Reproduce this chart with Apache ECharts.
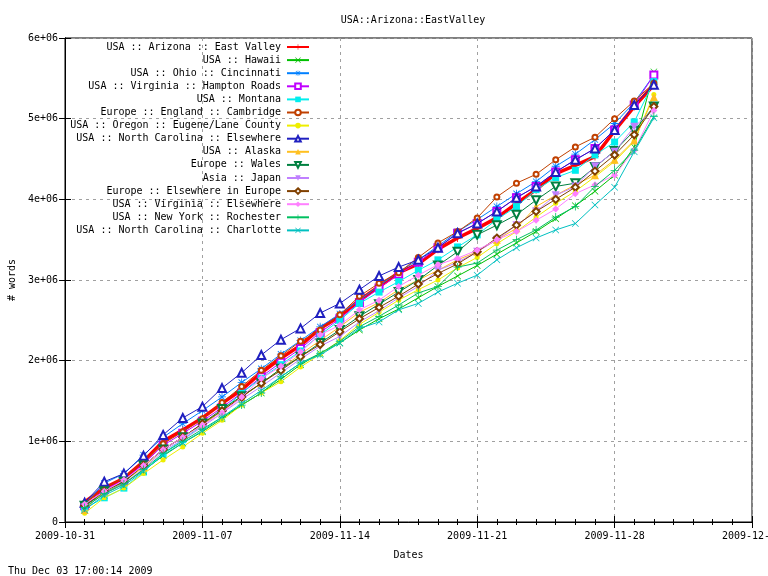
<!DOCTYPE html>
<html>
<head>
<meta charset="utf-8">
<script src="https://cdn.jsdelivr.net/npm/echarts@6/dist/echarts.min.js"></script>
<style>html,body{margin:0;padding:0;background:#fff}#c{width:768px;height:576px}</style>
</head>
<body>
<div id="c"></div>
<script>
// Days since 2009-10-31 for each sample (2009-11-01 .. 2009-11-30)
const dayOffsets = [1,2,3,4,5,6,7,8,9,10,11,12,13,14,15,16,17,18,19,20,21,22,23,24,25,26,27,28,29,30];
const xTickLabels = ['2009-10-31','2009-11-07','2009-11-14','2009-11-21','2009-11-28','2009-12-05'];
const yTickLabels = ['0','1e+06','2e+06','3e+06','4e+06','5e+06','6e+06'];
const seriesNames = [
  'USA :: Arizona :: East Valley','USA :: Hawaii','USA :: Ohio :: Cincinnati','USA :: Virginia :: Hampton Roads',
  'USA :: Montana','Europe :: England :: Cambridge','USA :: Oregon :: Eugene/Lane County','USA :: North Carolina :: Elsewhere',
  'USA :: Alaska','Europe :: Wales','Asia :: Japan','Europe :: Elsewhere in Europe','USA :: Virginia :: Elsewhere',
  'USA :: New York :: Rochester','USA :: North Carolina :: Charlotte'
];
// values in millions of words
const eastValley   = [0.25,0.42,0.54,0.75,1.00,1.14,1.29,1.47,1.64,1.85,2.03,2.19,2.40,2.55,2.75,2.92,3.09,3.20,3.38,3.52,3.64,3.77,3.95,4.12,4.32,4.42,4.53,4.85,5.15,5.42];
const hawaii       = [0.20,0.36,0.48,0.64,0.82,0.98,1.12,1.28,1.45,1.60,1.77,1.95,2.09,2.22,2.38,2.52,2.64,2.78,2.92,3.05,3.18,3.32,3.46,3.60,3.76,3.92,4.10,4.30,4.65,5.58];
const cincinnati   = [0.22,0.48,0.60,0.83,1.05,1.22,1.38,1.55,1.73,1.90,2.08,2.25,2.42,2.58,2.75,2.93,3.10,3.25,3.42,3.60,3.75,3.91,4.07,4.22,4.41,4.56,4.74,4.94,5.20,5.54];
const hamptonRoads = [0.20,0.40,0.52,0.72,0.95,1.10,1.25,1.42,1.60,1.80,1.98,2.15,2.35,2.52,2.72,2.90,3.07,3.22,3.40,3.58,3.70,3.85,4.02,4.16,4.34,4.49,4.63,4.86,5.17,5.54];
const montana      = [0.17,0.30,0.42,0.62,0.85,1.02,1.20,1.38,1.60,1.78,1.95,2.12,2.32,2.50,2.71,2.85,2.98,3.12,3.25,3.41,3.56,3.75,3.91,4.12,4.27,4.36,4.55,4.71,4.96,5.46];
const cambridge    = [0.23,0.42,0.55,0.75,0.97,1.12,1.28,1.48,1.68,1.88,2.06,2.24,2.38,2.57,2.80,2.96,3.09,3.28,3.46,3.60,3.77,4.03,4.20,4.31,4.49,4.65,4.77,5.00,5.22,5.44];
const oregon       = [0.11,0.30,0.42,0.60,0.77,0.93,1.10,1.26,1.45,1.60,1.74,1.92,2.08,2.25,2.45,2.60,2.75,2.88,3.00,3.15,3.28,3.45,3.60,3.78,3.95,4.10,4.28,4.47,4.72,5.30];
const ncElsewhere  = [0.24,0.50,0.60,0.82,1.08,1.29,1.43,1.66,1.85,2.07,2.26,2.40,2.59,2.71,2.88,3.05,3.16,3.25,3.40,3.58,3.70,3.85,4.02,4.16,4.34,4.49,4.63,4.86,5.17,5.42];
const alaska       = [0.15,0.38,0.50,0.68,0.90,1.05,1.20,1.38,1.55,1.72,1.90,2.08,2.25,2.42,2.60,2.72,2.88,3.00,3.12,3.25,3.35,3.50,3.64,3.91,4.05,4.18,4.30,4.49,4.73,5.27];
const wales        = [0.20,0.38,0.50,0.70,0.90,1.05,1.22,1.40,1.56,1.72,1.90,2.05,2.22,2.38,2.55,2.70,2.85,3.00,3.18,3.35,3.56,3.68,3.81,3.99,4.16,4.20,4.40,4.60,4.85,5.15];
const japan        = [0.18,0.35,0.48,0.66,0.88,1.02,1.18,1.35,1.52,1.68,1.85,2.02,2.18,2.30,2.48,2.62,2.78,2.92,3.12,3.22,3.35,3.50,3.68,3.85,4.05,4.16,4.41,4.59,4.90,5.11];
const europeOther  = [0.20,0.38,0.50,0.70,0.90,1.05,1.22,1.38,1.55,1.72,1.88,2.05,2.20,2.36,2.52,2.66,2.80,2.95,3.08,3.20,3.35,3.52,3.68,3.85,4.00,4.15,4.35,4.55,4.80,5.15];
const vaElsewhere  = [0.22,0.38,0.52,0.70,0.90,1.05,1.20,1.35,1.55,1.78,1.93,2.11,2.32,2.44,2.63,2.75,2.92,3.06,3.19,3.27,3.37,3.50,3.60,3.74,3.88,4.07,4.18,4.30,4.61,5.10];
const rochester    = [0.18,0.35,0.47,0.65,0.85,1.00,1.15,1.30,1.45,1.60,1.80,1.97,2.09,2.24,2.42,2.55,2.69,2.84,2.92,3.16,3.21,3.37,3.50,3.62,3.78,3.91,4.16,4.36,4.61,5.03];
const charlotte    = [0.15,0.33,0.45,0.63,0.83,0.98,1.13,1.30,1.47,1.63,1.80,1.97,2.07,2.22,2.40,2.48,2.63,2.71,2.85,2.96,3.06,3.25,3.40,3.52,3.62,3.70,3.93,4.15,4.59,5.01];

const allValues = [eastValley,hawaii,cincinnati,hamptonRoads,montana,cambridge,oregon,ncElsewhere,alaska,wales,japan,europeOther,vaElsewhere,rochester,charlotte];
const colors = ['#ff0000','#00c000','#0080ff','#c000ff','#00eeee','#c04000','#eeee00','#2020c0','#ffc020','#008040','#c080ff','#804000','#ff80ff','#00c060','#00c0c0'];

const PLUS = 'path://M0,4.5H10V5.5H0Z M4.5,0H5.5V10H4.5Z';
const CROSS = 'path://M0,0.7L0.7,0L10,9.3L9.3,10Z M9.3,0L10,0.7L0.7,10L0,9.3Z';
const STAR = 'path://M0,4.5H10V5.5H0Z M4.5,0H5.5V10H4.5Z M0.8,1.5L1.5,0.8L9.2,8.5L8.5,9.2Z M8.5,0.8L9.2,1.5L1.5,9.2L0.8,8.5Z';
const symbols = [
  [PLUS,0,8],[CROSS,0,7],[STAR,0,8],['emptyRect',0,7],['rect',0,7],['emptyCircle',0,5],['circle',0,5],
  ['emptyTriangle',0,8],['triangle',0,8],['emptyTriangle',180,8],['triangle',180,8],['emptyDiamond',0,7],
  ['diamond',0,7],[PLUS,0,8],[CROSS,0,7]
];

const FONT = '"DejaVu Sans Mono", "Liberation Mono", monospace';

const series = allValues.map((vals, i) => ({
  name: seriesNames[i],
  type: 'line',
  data: vals.map((v, k) => [dayOffsets[k], v]),
  symbol: symbols[i][0],
  symbolRotate: symbols[i][1],
  symbolSize: symbols[i][2],
  showSymbol: true,
  lineStyle: { width: i === 0 ? 3.5 : 1, color: colors[i] },
  itemStyle: { color: colors[i], borderWidth: 0.9 },
  emphasis: { disabled: true },
  animation: false,
  z: 2 + i
}));

const legends = seriesNames.map((n, i) => ({
  data: [n],
  right: 458,
  top: 41 + i * 13.1,
  orient: 'horizontal',
  align: 'right',
  itemWidth: 22,
  itemHeight: 7,
  padding: 0,
  selectedMode: false,
  textStyle: { fontFamily: FONT, fontSize: 10, color: '#000', lineHeight: 12, padding: [0, 1, 0, 0] }
}));

const axisCommon = {
  axisLine: { show: true, lineStyle: { color: '#000', width: 1 } },
  axisTick: { show: true, inside: true, length: 6, lineStyle: { color: '#000' } }
};

const option = {
  backgroundColor: '#fff',
  animation: false,
  title: [
    { text: 'USA::Arizona::EastValley', left: 408, top: 10, textAlign: 'center',
      textStyle: { fontFamily: FONT, fontSize: 10, fontWeight: 'normal', color: '#000' } },
    { text: 'Thu Dec 03 17:00:14 2009', left: 3, top: 561,
      textStyle: { fontFamily: FONT, fontSize: 10, fontWeight: 'normal', color: '#000' } }
  ],
  legend: legends,
  grid: { left: 65, right: 16, top: 38, bottom: 54, show: true, borderColor: '#000', borderWidth: 1,
          containLabel: false, outerBoundsMode: 'none' },
  xAxis: [
    Object.assign({}, axisCommon, {
      type: 'value', min: 0, max: 35, interval: 7, position: 'bottom',
      name: 'Dates', nameLocation: 'middle', nameGap: 28,
      nameTextStyle: { fontFamily: FONT, fontSize: 10, color: '#000' },
      axisLabel: { fontFamily: FONT, fontSize: 10, color: '#000', margin: 9, hideOverlap: false,
        formatter: v => xTickLabels[Math.round(v / 7)] },
      minorTick: { show: true, splitNumber: 7, length: 3, lineStyle: { color: '#000' } },
      splitLine: { show: true, lineStyle: { color: '#a0a0a0', type: [3, 4], width: 1 } }
    }),
    Object.assign({}, axisCommon, {
      type: 'value', min: 0, max: 35, interval: 7, position: 'top',
      axisLabel: { show: false },
      minorTick: { show: true, splitNumber: 7, length: 3, lineStyle: { color: '#000' } },
      splitLine: { show: false }
    })
  ],
  yAxis: [
    Object.assign({}, axisCommon, {
      type: 'value', min: 0, max: 6, interval: 1, position: 'left',
      name: '# words', nameLocation: 'middle', nameGap: 46, nameRotate: 90,
      nameTextStyle: { fontFamily: FONT, fontSize: 10, color: '#000' },
      axisLabel: { fontFamily: FONT, fontSize: 10, color: '#000', margin: 7,
        formatter: v => yTickLabels[Math.round(v)] },
      splitLine: { show: true, lineStyle: { color: '#a0a0a0', type: [3, 4], width: 1 } }
    }),
    Object.assign({}, axisCommon, {
      type: 'value', min: 0, max: 6, interval: 1, position: 'right',
      axisLabel: { show: false }, splitLine: { show: false }
    })
  ],
  series: series
};

const chart = echarts.init(document.getElementById('c'), null, { renderer: 'canvas' });
chart.setOption(option);
</script>
</body>
</html>
